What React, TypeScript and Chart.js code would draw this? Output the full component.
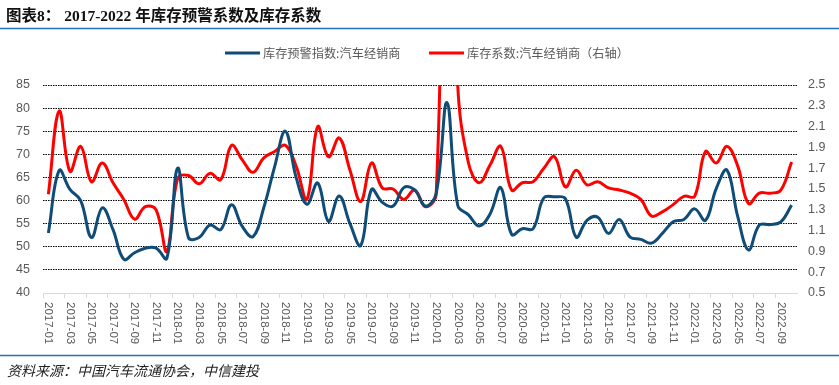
import React, { useEffect, useRef } from "react";
import { Chart, registerables } from "chart.js";

Chart.register(...registerables);

const TITLE = "图表8： 2017-2022 年库存预警系数及库存系数";
const FOOTER = "资料来源：中国汽车流通协会，中信建投";
const SERIES_A_NAME = "库存预警指数:汽车经销商";
const SERIES_B_NAME = "库存系数:汽车经销商（右轴）";

const months: string[] = [
  "2017-01","2017-02","2017-03","2017-04","2017-05","2017-06","2017-07","2017-08","2017-09","2017-10","2017-11","2017-12",
  "2018-01","2018-02","2018-03","2018-04","2018-05","2018-06","2018-07","2018-08","2018-09","2018-10","2018-11","2018-12",
  "2019-01","2019-02","2019-03","2019-04","2019-05","2019-06","2019-07","2019-08","2019-09","2019-10","2019-11","2019-12",
  "2020-01","2020-02","2020-03","2020-04","2020-05","2020-06","2020-07","2020-08","2020-09","2020-10","2020-11","2020-12",
  "2021-01","2021-02","2021-03","2021-04","2021-05","2021-06","2021-07","2021-08","2021-09","2021-10","2021-11","2021-12",
  "2022-01","2022-02","2022-03","2022-04","2022-05","2022-06","2022-07","2022-08","2022-09","2022-10",
];

// 库存预警指数 (left axis)
const warningIndex: number[] = [
  53, 66.5, 62.4, 60.0, 52.0, 58.4, 53.7, 47.3, 48.7, 49.7, 49.7, 47.5,
  67.0, 52.0, 52.0, 54.7, 53.7, 59.1, 54.4, 52.2, 58.5, 67.3, 75.0, 65.0,
  59.2, 63.8, 55.5, 61.0, 55.0, 50.3, 62.4, 59.6, 58.8, 62.8, 62.3, 58.8,
  61.5, 81.2, 59.0, 56.9, 54.5, 57.1, 62.8, 52.7, 53.9, 53.9, 60.6, 60.8,
  60.4, 52.1, 55.7, 56.4, 52.9, 55.9, 52.1, 51.6, 50.8, 52.9, 55.4, 55.9,
  58.2, 55.7, 62.6, 66.6, 56.5, 49.3, 54.7, 54.8, 55.4, 59.0,
];

// 库存系数 (right axis)
const inventoryCoef: number[] = [
  1.45, 2.25, 1.67, 1.91, 1.57, 1.75, 1.56, 1.40, 1.21, 1.33, 1.30, 0.90,
  1.60, 1.63, 1.55, 1.65, 1.59, 1.92, 1.78, 1.66, 1.80, 1.86, 1.92, 1.72,
  1.40, 2.10, 1.81, 1.99, 1.68, 1.38, 1.75, 1.51, 1.50, 1.40, 1.49, 1.33,
  1.45, 5.80, 2.50, 1.75, 1.56, 1.73, 1.91, 1.49, 1.56, 1.57, 1.70, 1.81,
  1.52, 1.68, 1.54, 1.57, 1.51, 1.49, 1.46, 1.40, 1.24, 1.28, 1.35, 1.43,
  1.43, 1.86, 1.75, 1.91, 1.72, 1.36, 1.46, 1.46, 1.49, 1.76,
];

const LEFT_MIN = 40;
const LEFT_MAX = 85;
const LEFT_STEP = 5;
const RIGHT_MIN = 0.5;
const RIGHT_MAX = 2.5;
const RIGHT_STEP = 0.2;

const BLUE = "#104c78";
const RED = "#ff0000";
const RULE = "#2672b8";
const TEXT_GRAY = "#595959";
const SANS = '"Liberation Sans", Arial, sans-serif';
const CJK = '"Noto Sans CJK SC", "Noto Sans", sans-serif';

const overlay = {
  id: "overlay",
  afterDraw(chart: any) {
    const ctx: CanvasRenderingContext2D = chart.ctx;
    ctx.save();
    // title
    ctx.fillStyle = "#111";
    ctx.font = `bold 15.5px "Liberation Serif", "Noto Sans CJK SC", serif`;
    ctx.textAlign = "left";
    ctx.textBaseline = "alphabetic";
    ctx.fillText(TITLE, 6, 21);

    // rules
    ctx.strokeStyle = RULE;
    ctx.lineWidth = 1.5;
    ctx.beginPath();
    ctx.moveTo(0, 28.5);
    ctx.lineTo(839, 28.5);
    ctx.moveTo(0, 355.5);
    ctx.lineTo(839, 355.5);
    ctx.stroke();

    // legend
    const ly = 53;
    ctx.lineWidth = 3;
    ctx.strokeStyle = BLUE;
    ctx.beginPath();
    ctx.moveTo(225, ly);
    ctx.lineTo(260, ly);
    ctx.stroke();
    ctx.strokeStyle = RED;
    ctx.beginPath();
    ctx.moveTo(429, ly);
    ctx.lineTo(464, ly);
    ctx.stroke();
    ctx.fillStyle = TEXT_GRAY;
    ctx.font = `12.2px ${CJK}`;
    ctx.textBaseline = "middle";
    ctx.fillText(SERIES_A_NAME, 263, ly);
    ctx.fillText(SERIES_B_NAME, 467, ly);

    // x labels rotated clockwise
    const xs = chart.scales.x;
    ctx.font = `11.5px ${SANS}`;
    ctx.fillStyle = TEXT_GRAY;
    months.forEach((m, i) => {
      if (i % 2 !== 0) return;
      const x = xs.getPixelForTick(i);
      ctx.save();
      ctx.translate(x, 302);
      ctx.rotate(Math.PI / 2);
      ctx.textAlign = "left";
      ctx.textBaseline = "middle";
      ctx.fillText(m, 0, 0);
      ctx.restore();
    });

    // footer
    ctx.fillStyle = "#222";
    ctx.font = `italic 14px ${CJK}`;
    ctx.textAlign = "left";
    ctx.textBaseline = "alphabetic";
    ctx.fillText(FOOTER, 7, 376);
    ctx.restore();
  },
};

export default function App() {
  const ref = useRef<HTMLCanvasElement | null>(null);

  useEffect(() => {
    if (!ref.current) return;
    const chart = new Chart(ref.current, {
      type: "line",
      data: {
        labels: months,
        datasets: [
          {
            label: SERIES_A_NAME,
            data: warningIndex,
            borderColor: BLUE,
            backgroundColor: BLUE,
            borderWidth: 3,
            pointRadius: 0,
            tension: 0.4,
            yAxisID: "y",
          },
          {
            label: SERIES_B_NAME,
            data: inventoryCoef,
            borderColor: RED,
            backgroundColor: RED,
            borderWidth: 3,
            pointRadius: 0,
            tension: 0.4,
            yAxisID: "y1",
          },
        ],
      },
      options: {
        responsive: false,
        animation: false,
        devicePixelRatio: 1,
        layout: {
          autoPadding: false,
          padding: { top: 85, bottom: 92, left: 0, right: 0 },
        },
        plugins: {
          legend: { display: false },
          title: { display: false },
          tooltip: { enabled: false },
        },
        scales: {
          x: {
            type: "category",
            offset: true,
            afterFit: (s: any) => {
              s.height = 0;
            },
            ticks: { display: false, autoSkip: false },
            grid: {
              offset: true,
              drawOnChartArea: false,
              drawTicks: true,
              tickLength: 5,
              tickColor: (c: any) => (c.index % 2 === 0 ? "#d9d9d9" : "rgba(0,0,0,0)"),
              color: "#d9d9d9",
            },
            border: { display: true, color: "#d9d9d9", width: 1 },
          },
          y: {
            position: "left",
            min: LEFT_MIN,
            max: LEFT_MAX,
            afterFit: (s: any) => {
              s.width = 43;
            },
            ticks: {
              stepSize: LEFT_STEP,
              color: TEXT_GRAY,
              font: { family: SANS, size: 12.5 },
              padding: 13,
            },
            grid: {
              drawTicks: false,
              color: (c: any) => (c.tick && c.tick.value === LEFT_MIN ? "rgba(0,0,0,0)" : "#000"),
              lineWidth: 1,
            },
            border: { display: false, dash: [1.5, 1] },
          },
          y1: {
            position: "right",
            min: RIGHT_MIN,
            max: RIGHT_MAX,
            afterFit: (s: any) => {
              s.width = 42;
            },
            ticks: {
              stepSize: RIGHT_STEP,
              color: TEXT_GRAY,
              font: { family: SANS, size: 12.5 },
              padding: 11,
              callback: (v: any) => Number(v).toFixed(1),
            },
            grid: { drawOnChartArea: false, drawTicks: false },
            border: { display: false },
          },
        },
      },
      plugins: [overlay],
    } as any);
    return () => chart.destroy();
  }, []);

  return (
    <div
      style={{
        position: "absolute",
        left: 0,
        top: 0,
        width: 839,
        height: 385,
        background: "#fff",
      }}
    >
      <canvas ref={ref} width={839} height={385} style={{ display: "block" }} />
    </div>
  );
}
